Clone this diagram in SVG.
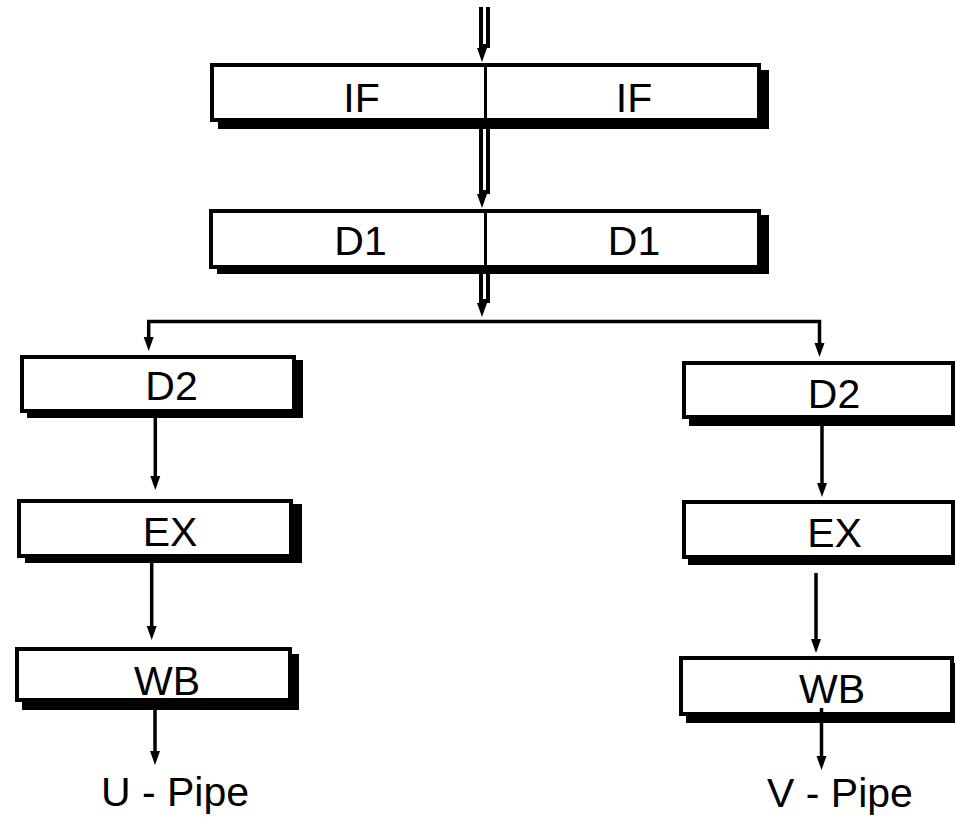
<svg xmlns="http://www.w3.org/2000/svg" xmlns:xlink="http://www.w3.org/1999/xlink" width="955" height="817" viewBox="0 0 955 817">
<style>
.box{fill:#fff;stroke:#000;stroke-width:4}
.shd{fill:#000}
.div{stroke:#000;stroke-width:3}
.lbl{font-family:"Liberation Sans",Arial,sans-serif;font-size:41px;fill:#000;text-anchor:middle}
.ln{fill:none;stroke:#000;stroke-width:3.5;stroke-linejoin:miter}
.ah{fill:#000}
</style>
<defs>
<path id="ah" class="ah" d="M-5,-14 L5,-14 L0,0 Z"/>
</defs>
<rect width="955" height="817" fill="#fff"/>

<g id="node-if">
<rect class="shd" x="218" y="70" width="551" height="59"/>
<rect class="box" x="212" y="65" width="547" height="55"/>
<line class="div" x1="485.5" y1="65" x2="485.5" y2="120"/>
<text class="lbl" x="361.5" y="112">IF</text>
<text class="lbl" x="634" y="112">IF</text>
</g>

<g id="node-d1">
<rect class="shd" x="217" y="215" width="552" height="59"/>
<rect class="box" x="211" y="211" width="548" height="56"/>
<line class="div" x1="485.5" y1="211" x2="485.5" y2="267"/>
<text class="lbl" x="360.5" y="255">D1</text>
<text class="lbl" x="634" y="255">D1</text>
</g>

<g id="node-u-d2">
<rect class="shd" x="27" y="360" width="276" height="58"/>
<rect class="box" x="22" y="357" width="272" height="54"/>
<text class="lbl" x="171.5" y="400">D2</text>
</g>

<g id="node-u-ex">
<rect class="shd" x="25" y="504" width="277" height="59"/>
<rect class="box" x="19" y="501" width="272" height="55"/>
<text class="lbl" x="170" y="546">EX</text>
</g>

<g id="node-u-wb">
<rect class="shd" x="22" y="654" width="277" height="56"/>
<rect class="box" x="17" y="649" width="273" height="51"/>
<text class="lbl" x="167" y="695">WB</text>
</g>

<g id="node-v-d2">
<rect class="shd" x="689" y="368" width="275" height="58"/>
<rect class="box" x="684" y="363" width="269" height="54"/>
<text class="lbl" x="834" y="408">D2</text>
</g>

<g id="node-v-ex">
<rect class="shd" x="688" y="506" width="275" height="59"/>
<rect class="box" x="684" y="502" width="269" height="55"/>
<text class="lbl" x="834.5" y="547">EX</text>
</g>

<g id="node-v-wb">
<rect class="shd" x="686" y="663" width="275" height="60"/>
<rect class="box" x="681" y="658" width="271" height="56"/>
<text class="lbl" x="832" y="703">WB</text>
</g>

<g id="label-u"><text class="lbl" x="175" y="806">U - Pipe</text></g>
<g id="label-v"><text class="lbl" x="840" y="807">V - Pipe</text></g>

<g id="connectors">
<!-- double shafts -->
<rect x="479" y="7" width="11" height="41" fill="#000"/>
<rect x="483" y="7" width="3" height="37" fill="#fff"/>
<use xlink:href="#ah" href="#ah" x="482" y="62"/>

<rect x="479" y="129" width="11" height="65" fill="#000"/>
<rect x="483" y="129" width="3" height="61" fill="#fff"/>
<use xlink:href="#ah" href="#ah" x="482" y="208"/>

<rect x="479" y="274" width="11" height="29" fill="#000"/>
<rect x="483" y="274" width="3" height="25" fill="#fff"/>
<use xlink:href="#ah" href="#ah" x="482" y="317"/>

<!-- split -->
<polyline class="ln" points="148.7,337 148.7,321.5 819.5,321.5 819.5,343"/>
<use xlink:href="#ah" href="#ah" x="148.7" y="351"/>
<use xlink:href="#ah" href="#ah" x="819.5" y="357"/>

<!-- U pipe -->
<line class="ln" x1="155.3" y1="418" x2="155.3" y2="476"/>
<use xlink:href="#ah" href="#ah" x="155.3" y="490"/>
<line class="ln" x1="151.7" y1="563" x2="151.7" y2="626"/>
<use xlink:href="#ah" href="#ah" x="151.7" y="640"/>
<line class="ln" x1="155" y1="710" x2="155" y2="751"/>
<use xlink:href="#ah" href="#ah" x="155" y="765"/>

<!-- V pipe -->
<line class="ln" x1="822" y1="426" x2="822" y2="483"/>
<use xlink:href="#ah" href="#ah" x="822" y="497"/>
<line class="ln" x1="816" y1="573" x2="816" y2="639"/>
<use xlink:href="#ah" href="#ah" x="816" y="653"/>
<line class="ln" x1="821.5" y1="708" x2="821.5" y2="756"/>
<use xlink:href="#ah" href="#ah" x="821.5" y="770"/>
</g>
</svg>
